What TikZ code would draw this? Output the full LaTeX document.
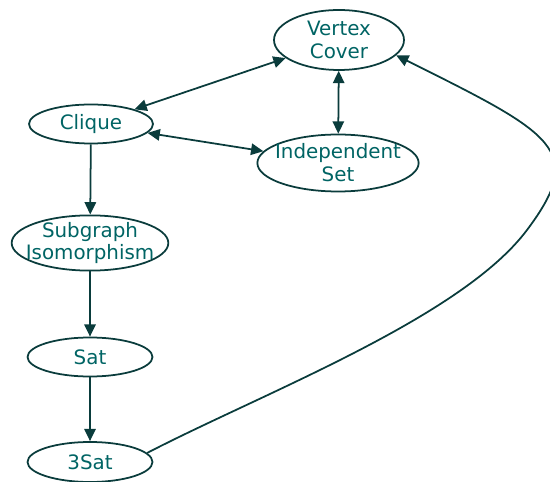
\documentclass[tikz,border=0pt]{standalone}
\usepackage{fontspec}
\setmainfont{DejaVu Sans}
\usetikzlibrary{arrows.meta,shapes.geometric}
\definecolor{edgecol}{RGB}{10,60,60}
\definecolor{textcol}{RGB}{0,100,100}

\begin{document}
\begin{tikzpicture}[x=0.02cm, y=-0.02cm,
    prob/.style={draw=edgecol, line width=1pt, ellipse, text=textcol,
      inner sep=0pt, align=center, font=\fontsize{11.3}{13}\selectfont},
    reduce/.style={draw=edgecol, line width=1pt, -{Triangle[length=7pt,width=6.5pt]}},
    equiv/.style={reduce, {Triangle[length=7pt,width=6.5pt]}-{Triangle[length=7pt,width=6.5pt]}}]
  \useasboundingbox (0,0) rectangle (550,482);
  % problems
  \node[prob, minimum width=2.6cm, minimum height=1.2cm] (vc) at (339,40) {Vertex\\Cover};
  \node[prob, minimum width=2.48cm, minimum height=0.78cm] (clique) at (91,124) {Clique};
  \node[prob, inner xsep=-0.118cm, minimum height=1.14cm] (is) at (338,163) {Independent\\Set};
  \node[prob, inner xsep=-0.176cm, inner ysep=-0.03cm] (sub) at (90,243) {Subgraph\\Isomorphism};
  \node[prob, minimum width=2.5cm, minimum height=0.78cm] (sat) at (90,357) {Sat};
  \node[prob, minimum width=2.5cm, minimum height=0.8cm] (sat3) at (90,462) {3Sat};
  % reductions
  \draw[equiv] (clique) -- (vc);
  \draw[equiv] (clique) -- (is);
  \draw[equiv] (vc) -- (is);
  \draw[reduce] (clique) -- (sub);
  \draw[reduce] (sub) -- (sat);
  \draw[reduce] (sat) -- (sat3);
  \draw[reduce] (sat3.9) .. controls (263,393) and (461,318) .. (527,230)
    .. controls (587,150) and (554,134) .. (vc.-15);
\end{tikzpicture}
\end{document}
